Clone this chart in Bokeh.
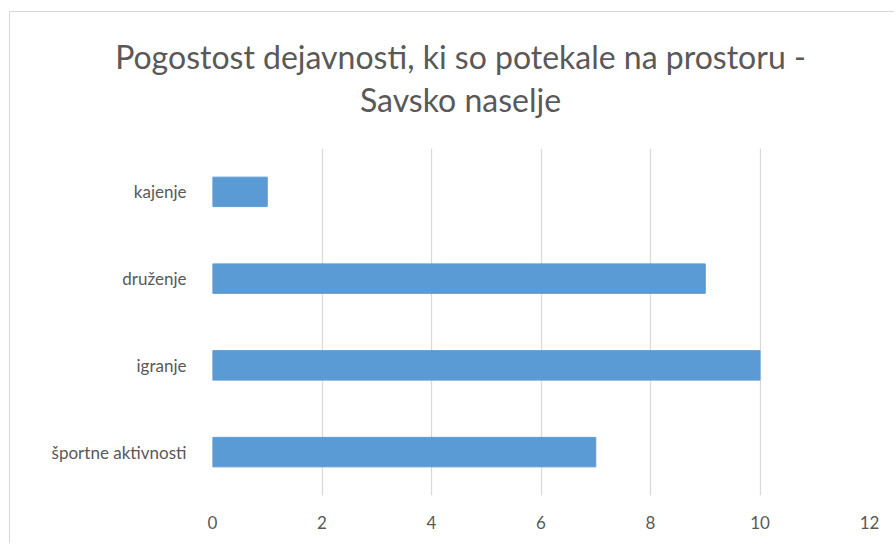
from bokeh.plotting import figure
from bokeh.models import Label, SingleIntervalTicker, FactorRange, Range1d
from bokeh.embed import file_html
from bokeh.resources import INLINE

categories = ["športne aktivnosti", "igranje", "druženje", "kajenje"]
values = [7, 10, 9, 1]
title_line1 = "Pogostost dejavnosti, ki so potekale na prostoru -"
title_line2 = "Savsko naselje"

TEXT = "#595959"
FONT = "Lato"

p = figure(width=885, height=532, output_backend="svg", toolbar_location=None,
           y_range=FactorRange(*categories, range_padding=0),
           x_range=Range1d(0, 12),
           min_border_left=202, min_border_right=26, min_border_top=136, min_border_bottom=49)
p.title = None
p.hbar(y=categories, right=values, left=0, height=0.34, color="#5B9BD5")

p.outline_line_color = None
p.ygrid.grid_line_color = None
p.xgrid.grid_line_color = "#D9D9D9"
p.xgrid.grid_line_width = 1.3
p.xaxis.ticker = SingleIntervalTicker(interval=2)
for ax in (p.xaxis[0], p.yaxis[0]):
    ax.axis_line_color = None
    ax.major_tick_line_color = None
    ax.minor_tick_line_color = None
    ax.major_label_text_color = TEXT
    ax.major_label_text_font = FONT
    ax.major_label_text_font_size = "17px"
p.xaxis.major_label_standoff = 14
p.yaxis.major_label_standoff = 20
p.y_range.factor_padding = 0
p.styles = {"border-top": "1px solid #D9D9D9", "border-left": "1px solid #D9D9D9",
            "margin-left": "9px", "margin-top": "11px"}

# title lines live in the "above" side panels (not clipped to the frame)
for txt, yy in ((title_line1, 92), (title_line2, 10)):
    p.add_layout(Label(x=248, y=yy, x_units="screen", y_units="screen", text=txt,
                       text_align="center", text_baseline="alphabetic", text_font=FONT,
                       text_font_size="32px", text_color=TEXT), "above")

open("out.html", "w").write(file_html(p, INLINE))
